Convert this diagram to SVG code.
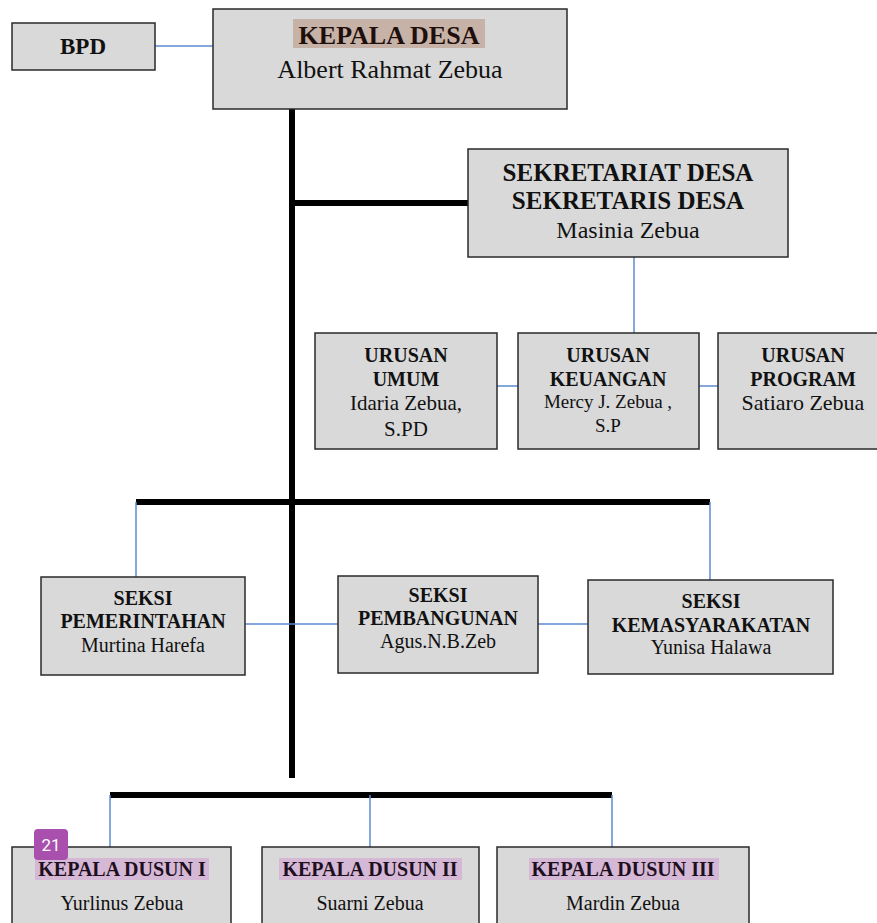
<svg xmlns="http://www.w3.org/2000/svg" width="877" height="923" viewBox="0 0 877 923">
<style>
.box{fill:#d9d9d9;stroke:#2a2a2a;stroke-width:1.5}
.b{font-family:"Liberation Serif",serif;font-weight:bold;fill:#111;text-anchor:middle}
.r{font-family:"Liberation Serif",serif;fill:#111;text-anchor:middle}
.blue{stroke:#5b8bd0;stroke-width:1.5;fill:none}
.thick{stroke:#000;stroke-width:6;fill:none}
</style>
<rect width="877" height="923" fill="#fff"/>
<g id="connectors">
<line class="blue" x1="155" y1="46" x2="213" y2="46"/>
<line class="thick" x1="292" y1="109" x2="292" y2="778"/>
<line class="thick" x1="292" y1="203" x2="468" y2="203"/>
<line class="blue" x1="634" y1="257" x2="634" y2="333"/>
<line class="blue" x1="497" y1="386" x2="518" y2="386"/>
<line class="blue" x1="699" y1="386" x2="718" y2="386"/>
<line class="thick" x1="136" y1="502" x2="710" y2="502"/>
<line class="blue" x1="136" y1="502" x2="136" y2="578"/>
<line class="blue" x1="710" y1="502" x2="710" y2="580"/>
<line class="blue" x1="245" y1="624" x2="338" y2="624"/>
<line class="blue" x1="538" y1="624" x2="588" y2="624"/>
<line class="thick" x1="110" y1="795" x2="612" y2="795"/>
<line class="blue" x1="110" y1="795" x2="110" y2="847"/>
<line class="blue" x1="370" y1="795" x2="370" y2="847"/>
<line class="blue" x1="612" y1="795" x2="612" y2="847"/>
</g>
<g id="bpd">
<rect class="box" x="12" y="23" width="143" height="47"/>
<text class="b" x="83" y="54" font-size="23">BPD</text>
</g>
<g id="kepala-desa">
<rect class="box" x="213" y="9" width="354" height="100"/>
<rect x="293" y="19" width="192" height="29" fill="#c7b2a8"/>
<text class="b" x="389" y="44" font-size="26" style="fill:#1e0f0c">KEPALA DESA</text>
<text class="r" x="390" y="78" font-size="26">Albert Rahmat Zebua</text>
</g>
<g id="sekretariat">
<rect class="box" x="468" y="149" width="320" height="108"/>
<text class="b" x="628" y="181" font-size="25">SEKRETARIAT DESA</text>
<text class="b" x="628" y="209" font-size="25">SEKRETARIS DESA</text>
<text class="r" x="628" y="238" font-size="24">Masinia Zebua</text>
</g>
<g id="urusan-umum">
<rect class="box" x="315" y="333" width="182" height="116"/>
<text class="b" x="406" y="362" font-size="20">URUSAN</text>
<text class="b" x="406" y="386" font-size="20">UMUM</text>
<text class="r" x="406" y="410" font-size="21">Idaria Zebua,</text>
<text class="r" x="406" y="436" font-size="21">S.PD</text>
</g>
<g id="urusan-keuangan">
<rect class="box" x="518" y="333" width="181" height="116"/>
<text class="b" x="608" y="362" font-size="20">URUSAN</text>
<text class="b" x="608" y="386" font-size="20">KEUANGAN</text>
<text class="r" x="608" y="408" font-size="19">Mercy J. Zebua ,</text>
<text class="r" x="608" y="432" font-size="19">S.P</text>
</g>
<g id="urusan-program">
<rect class="box" x="718" y="333" width="170" height="116"/>
<text class="b" x="803" y="362" font-size="20">URUSAN</text>
<text class="b" x="803" y="386" font-size="20">PROGRAM</text>
<text class="r" x="803" y="410" font-size="22">Satiaro Zebua</text>
</g>
<g id="seksi-pemerintahan">
<rect class="box" x="41" y="577" width="204" height="98"/>
<text class="b" x="143" y="605" font-size="20">SEKSI</text>
<text class="b" x="143" y="628" font-size="20">PEMERINTAHAN</text>
<text class="r" x="143" y="652" font-size="20">Murtina Harefa</text>
</g>
<g id="seksi-pembangunan">
<rect class="box" x="338" y="576" width="200" height="97"/>
<text class="b" x="438" y="602" font-size="20">SEKSI</text>
<text class="b" x="438" y="625" font-size="20">PEMBANGUNAN</text>
<text class="r" x="438" y="648" font-size="20">Agus.N.B.Zeb</text>
</g>
<g id="seksi-kemasyarakatan">
<rect class="box" x="588" y="580" width="245" height="94"/>
<text class="b" x="711" y="608" font-size="20">SEKSI</text>
<text class="b" x="711" y="632" font-size="20">KEMASYARAKATAN</text>
<text class="r" x="711" y="654" font-size="20">Yunisa Halawa</text>
</g>
<g id="kepala-dusun-1">
<rect class="box" x="12" y="847" width="219" height="90"/>
<rect x="35" y="858" width="174" height="22" fill="#d5b8d5"/>
<text class="b" x="122" y="876" font-size="20" style="fill:#1e0f1e">KEPALA DUSUN I</text>
<text class="r" x="122" y="910" font-size="20">Yurlinus Zebua</text>
</g>
<g id="kepala-dusun-2">
<rect class="box" x="262" y="847" width="217" height="90"/>
<rect x="279" y="858" width="183" height="22" fill="#d5b8d5"/>
<text class="b" x="370" y="876" font-size="20" style="fill:#1e0f1e">KEPALA DUSUN II</text>
<text class="r" x="370" y="910" font-size="20">Suarni Zebua</text>
</g>
<g id="kepala-dusun-3">
<rect class="box" x="497" y="847" width="252" height="90"/>
<rect x="529" y="858" width="190" height="22" fill="#d5b8d5"/>
<text class="b" x="623" y="876" font-size="20" style="fill:#1e0f1e">KEPALA DUSUN III</text>
<text class="r" x="623" y="910" font-size="20">Mardin Zebua</text>
</g>
<g id="badge">
<rect x="34" y="829" width="34" height="31" rx="4" fill="#a94fae"/>
<text x="51" y="851" font-family="Roboto, 'Noto Sans', sans-serif" font-size="17" fill="#fff" text-anchor="middle">21</text>
</g>
</svg>
